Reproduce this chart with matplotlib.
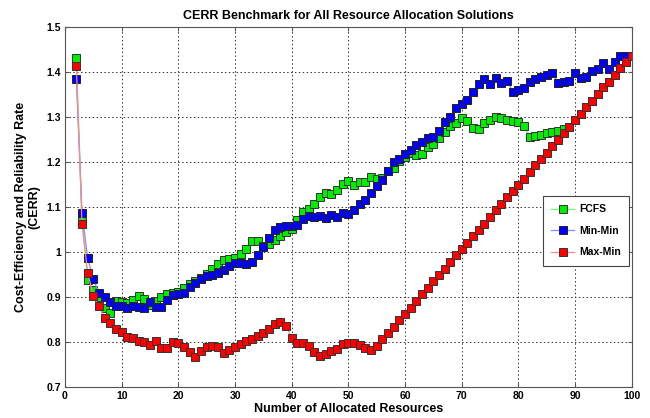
import numpy as np
import matplotlib
matplotlib.use("Agg")
import matplotlib.pyplot as plt

plt.rcParams['font.family'] = ['Liberation Sans', 'DejaVu Sans']
plt.rcParams['font.weight'] = 'bold'

# data
n_resources = list(range(2, 101))

max_min = [1.414, 1.062, 0.954, 0.902, 0.880, 0.854, 0.843, 0.829, 0.823, 0.812,
           0.810, 0.803, 0.800, 0.794, 0.803, 0.786, 0.786, 0.800, 0.798, 0.789,
           0.779, 0.767, 0.780, 0.790, 0.791, 0.788, 0.775, 0.782, 0.788, 0.795,
           0.803, 0.807, 0.814, 0.821, 0.830, 0.840, 0.845, 0.836, 0.809, 0.799,
           0.799, 0.791, 0.778, 0.768, 0.774, 0.780, 0.784, 0.796, 0.799, 0.797,
           0.793, 0.786, 0.782, 0.792, 0.807, 0.820, 0.834, 0.849, 0.862, 0.876,
           0.892, 0.906, 0.920, 0.935, 0.949, 0.963, 0.978, 0.993, 1.006, 1.020,
           1.035, 1.049, 1.063, 1.078, 1.093, 1.106, 1.122, 1.135, 1.150, 1.163,
           1.178, 1.193, 1.208, 1.221, 1.235, 1.250, 1.265, 1.279, 1.294, 1.307,
           1.322, 1.336, 1.351, 1.366, 1.379, 1.394, 1.409, 1.422, 1.437]

min_min = [1.384, 1.088, 0.986, 0.940, 0.909, 0.900, 0.888, 0.881, 0.880, 0.876,
           0.880, 0.878, 0.876, 0.888, 0.878, 0.878, 0.893, 0.904, 0.906, 0.910,
           0.923, 0.931, 0.941, 0.947, 0.948, 0.953, 0.961, 0.969, 0.975, 0.976,
           0.974, 0.978, 0.994, 1.012, 1.032, 1.050, 1.056, 1.059, 1.057, 1.060,
           1.074, 1.080, 1.078, 1.080, 1.075, 1.083, 1.078, 1.087, 1.084, 1.094,
           1.108, 1.115, 1.132, 1.147, 1.161, 1.180, 1.201, 1.207, 1.218, 1.228,
           1.239, 1.244, 1.253, 1.255, 1.270, 1.290, 1.301, 1.320, 1.329, 1.338,
           1.355, 1.374, 1.385, 1.374, 1.387, 1.377, 1.381, 1.357, 1.361, 1.364,
           1.379, 1.384, 1.389, 1.393, 1.398, 1.377, 1.379, 1.381, 1.398, 1.387,
           1.389, 1.403, 1.407, 1.420, 1.407, 1.423, 1.436, 1.436, 1.437]

fcfs = [1.431, 1.075, 0.939, 0.916, 0.900, 0.876, 0.865, 0.891, 0.888, 0.887,
        0.893, 0.902, 0.895, 0.883, 0.892, 0.900, 0.907, 0.910, 0.911, 0.920,
        0.929, 0.935, 0.943, 0.951, 0.962, 0.974, 0.983, 0.984, 0.988, 0.995,
        1.007, 1.024, 1.025, 1.014, 1.019, 1.027, 1.036, 1.045, 1.052, 1.071,
        1.089, 1.096, 1.107, 1.123, 1.131, 1.130, 1.137, 1.151, 1.158, 1.150,
        1.155, 1.156, 1.166, 1.162, 1.165, 1.181, 1.188, 1.203, 1.212, 1.221,
        1.216, 1.217, 1.233, 1.240, 1.253, 1.266, 1.280, 1.288, 1.297, 1.291,
        1.275, 1.273, 1.288, 1.294, 1.300, 1.297, 1.294, 1.292, 1.290, 1.281,
        1.256, 1.258, 1.261, 1.265, 1.267, 1.269, 1.274, 1.279, 1.294, 1.307,
        1.322, 1.336, 1.351, 1.366, 1.379, 1.394, 1.409, 1.422, 1.437]

fig = plt.figure(figsize=(6.5, 4.18), dpi=100)
ax = fig.add_axes([0.1, 0.074, 0.872, 0.861])

ms = 5.2
ax.plot(n_resources, fcfs, '-s', color='#66ff66', lw=0.9, ms=ms,
        markerfacecolor='#00ee00', markeredgecolor='#333333', mew=0.7, label='FCFS')
ax.plot(n_resources, min_min, '-s', color='#8888ff', lw=0.9, ms=ms,
        markerfacecolor='#0000ff', markeredgecolor='#222222', mew=0.7, label='Min-Min')
ax.plot(n_resources, max_min, '-s', color='#ff8888', lw=0.9, ms=ms,
        markerfacecolor='#ff0000', markeredgecolor='#333333', mew=0.7, label='Max-Min')

ax.set_xlim(0, 100)
ax.set_ylim(0.7, 1.5)
ax.set_xticks(np.arange(0, 101, 10))
ax.set_yticks(np.arange(0.7, 1.51, 0.1))
ax.set_yticklabels(['0.7', '0.8', '0.9', '1', '1.1', '1.2', '1.3', '1.4', '1.5'])
ax.grid(True, color='#333333', linestyle=(0, (1.5, 2.5)), linewidth=0.7)
ax.tick_params(direction='in', top=True, right=True, labelsize=7.5, length=3,
               color='#555555', pad=3)
for lbl in ax.get_xticklabels() + ax.get_yticklabels():
    lbl.set_fontweight('bold')
for sp in ax.spines.values():
    sp.set_color('#555555')
    sp.set_linewidth(0.8)

ax.set_title('CERR Benchmark for All Resource Allocation Solutions',
             fontsize=9, fontweight='bold', pad=6)
ax.set_xlabel('Number of Allocated Resources', fontsize=9, fontweight='bold', labelpad=1)
ax.set_ylabel('Cost-Efficiency and Reliability Rate\n(CERR)', fontsize=9,
              fontweight='bold', labelpad=4)

leg = ax.legend(loc='upper left', bbox_to_anchor=(0.834, 0.545), fontsize=7.5,
                fancybox=False, framealpha=1, edgecolor='#444444',
                handlelength=2.2, handletextpad=0.5, labelspacing=1.1,
                borderpad=0.8)
leg.get_frame().set_linewidth(0.8)
for t in leg.get_texts():
    t.set_fontweight('bold')

fig.savefig('out.png', dpi=100)
